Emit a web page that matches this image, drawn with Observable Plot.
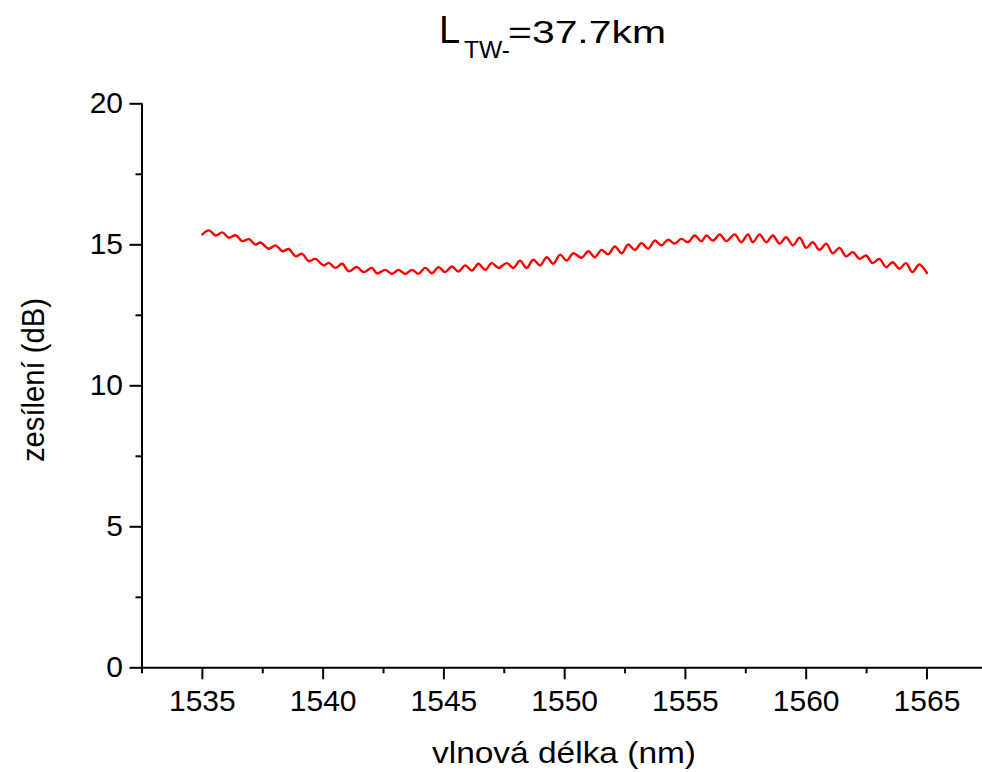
<!DOCTYPE html>
<html>
<head>
<meta charset="utf-8">
<script src="https://cdn.jsdelivr.net/npm/d3@7"></script>
<script src="https://cdn.jsdelivr.net/npm/@observablehq/plot@0.6"></script>
<style>
  html, body { margin: 0; padding: 0; background: #fff; overflow: hidden; }
</style>
</head>
<body>
<div id="chart"></div>
<script>
const wavelength = [1535.00,1535.27,1535.55,1535.83,1536.10,1536.38,1536.65,1536.93,1537.20,1537.41,
1537.75,1538.03,1538.31,1538.58,1538.86,1539.13,1539.40,1539.68,1540.02,1540.23,
1540.51,1540.79,1541.06,1541.40,1541.68,1542.02,1542.23,1542.57,1542.85,1543.12,
1543.40,1543.68,1543.95,1544.23,1544.50,1544.78,1545.05,1545.33,1545.60,1545.88,
1546.16,1546.43,1546.71,1546.98,1547.26,1547.60,1547.88,1548.15,1548.43,1548.70,
1548.98,1549.26,1549.53,1549.81,1550.08,1550.36,1550.70,1550.98,1551.25,1551.53,
1551.80,1552.08,1552.36,1552.63,1552.91,1553.18,1553.46,1553.73,1554.01,1554.28,
1554.56,1554.83,1555.11,1555.38,1555.66,1555.87,1556.14,1556.42,1556.69,1557.04,
1557.31,1557.59,1557.79,1558.07,1558.35,1558.62,1558.90,1559.17,1559.45,1559.73,
1560.00,1560.27,1560.55,1560.83,1561.10,1561.38,1561.65,1561.93,1562.21,1562.48,
1562.75,1563.03,1563.31,1563.58,1563.86,1564.13,1564.40,1564.68,1565.00];

const gain = [15.37,15.51,15.33,15.44,15.25,15.34,15.13,15.20,15.01,15.08,
14.86,14.98,14.77,14.85,14.59,14.68,14.42,14.50,14.27,14.36,
14.18,14.33,14.06,14.21,14.03,14.18,13.99,14.11,13.97,14.11,
13.97,14.11,13.97,14.18,13.99,14.21,14.03,14.23,14.05,14.27,
14.09,14.33,14.11,14.35,14.18,14.35,14.18,14.44,14.18,14.47,
14.27,14.56,14.33,14.65,14.44,14.70,14.54,14.77,14.56,14.82,
14.66,14.94,14.70,15.01,14.82,15.06,14.86,15.15,14.98,15.18,
15.04,15.21,15.09,15.33,15.13,15.33,15.15,15.37,15.13,15.37,
15.09,15.37,15.09,15.37,15.09,15.33,15.04,15.27,14.98,15.25,
14.89,15.09,14.82,15.04,14.70,14.89,14.59,14.74,14.50,14.62,
14.35,14.50,14.21,14.38,14.15,14.35,14.03,14.30,14.00];

const xMajorTicks = [1535, 1540, 1545, 1550, 1555, 1560, 1565];
const xMinorTicks = [1532.5, 1537.5, 1542.5, 1547.5, 1552.5, 1557.5, 1562.5];
const yMajorTicks = [0, 5, 10, 15, 20];
const yMinorTicks = [2.5, 7.5, 12.5, 17.5];

const titleMain = "L";
const titleSub = "TW-";
const titleRest = "=37.7km";
const xLabel = "vlnová délka (nm)";
const yLabel = "zesílení (dB)";

const data = wavelength.map((w, i) => ({w, g: gain[i]}));

const font = "'Liberation Sans', Arial, Helvetica, sans-serif";

const svg = Plot.plot({
  width: 982,
  height: 772,
  marginLeft: 141.5,
  marginRight: 0,
  marginTop: 103.3,
  marginBottom: 104.7,
  style: {fontFamily: font, color: "black", background: "white", overflow: "visible"},
  x: {domain: [1532.5, 1567.3]},
  y: {domain: [0, 20]},
  marks: [
    Plot.axisX({ticks: xMajorTicks, tickSize: 12, tickPadding: 10, strokeWidth: 2, fontSize: 30, tickFormat: d => String(d), label: null}),
    Plot.axisX({ticks: xMinorTicks, tickSize: 6, strokeWidth: 2, text: null, label: null}),
    Plot.axisY({ticks: yMajorTicks, tickSize: 12, tickPadding: 7, strokeWidth: 2, fontSize: 30, tickFormat: d => String(d), label: null}),
    Plot.axisY({ticks: yMinorTicks, tickSize: 6, strokeWidth: 2, text: null, label: null}),
    Plot.ruleY([0], {stroke: "black", strokeWidth: 2}),
    Plot.ruleX([1532.5], {y1: 0, y2: 20, stroke: "black", strokeWidth: 2}),
    Plot.line(data, {x: "w", y: "g", stroke: "#ff0000", strokeWidth: 2.4, curve: "catmull-rom"})
  ]
});

const s = d3.select(svg);
function addText(str, x, y, size, len, rot) {
  const t = s.append("text")
    .attr("font-family", font)
    .attr("font-size", size)
    .attr("fill", "black")
    .attr("text-anchor", "start")
    .text(str);
  if (rot) t.attr("transform", `translate(${x},${y}) rotate(${rot})`);
  else t.attr("x", x).attr("y", y);
  if (len) t.attr("textLength", len).attr("lengthAdjust", "spacingAndGlyphs");
  return t;
}
// title
addText(titleMain, 439, 43.3, 38, null, 0);
addText(titleSub, 464, 58.3, 23, 46, 0);
addText(titleRest, 508, 43.3, 32, 158, 0);
// axis labels
addText(xLabel, 432, 763, 30, 264, 0);
addText(yLabel, 44, 462, 31, 164, -90);

document.getElementById("chart").appendChild(svg);
</script>
</body>
</html>
